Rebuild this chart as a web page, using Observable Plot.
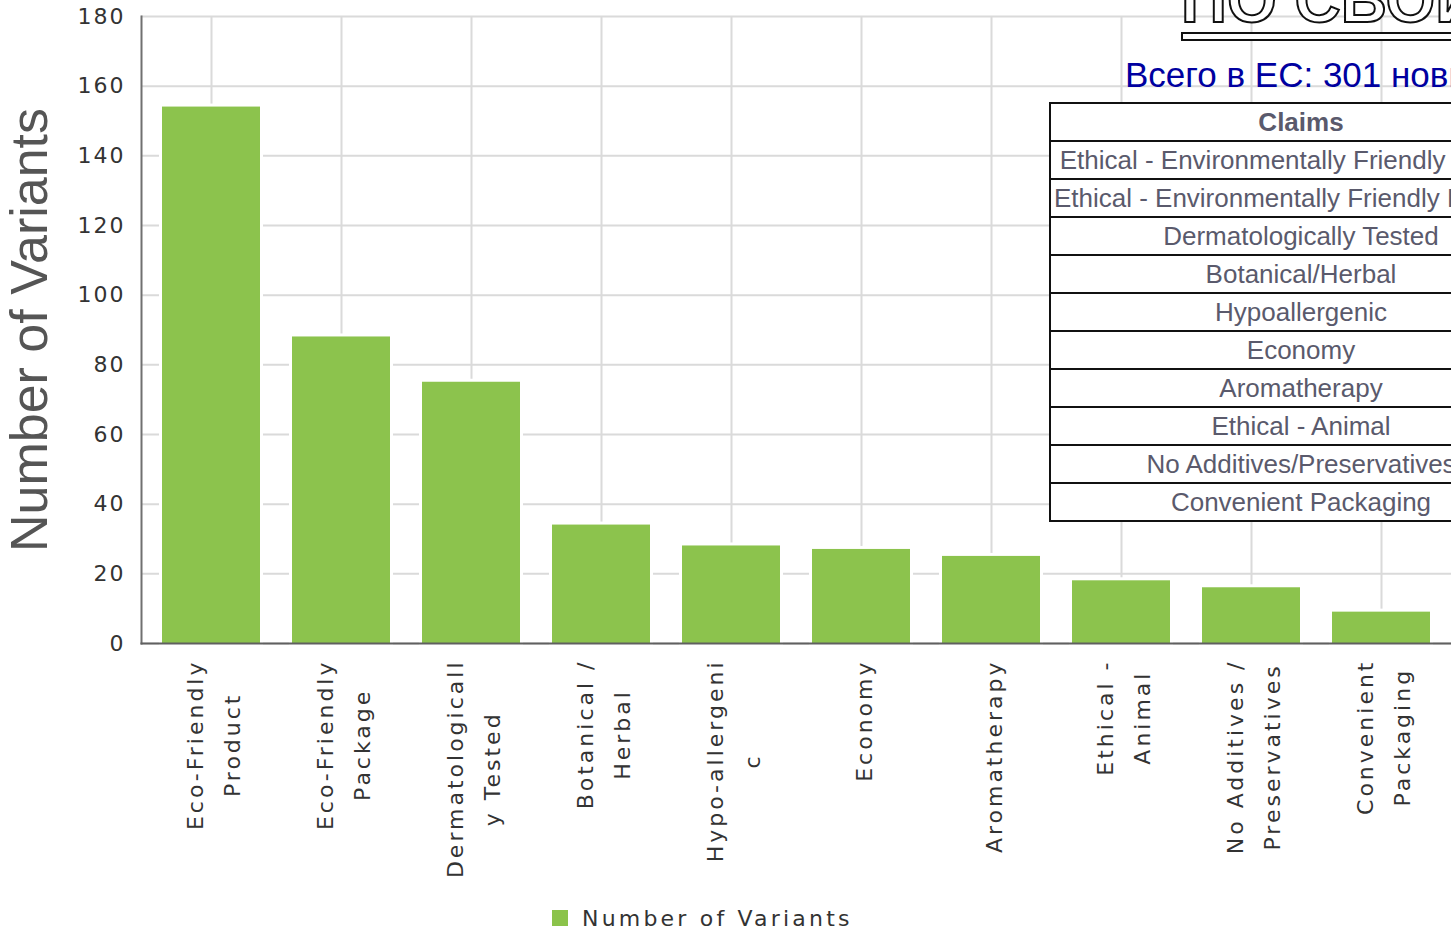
<!DOCTYPE html>
<html>
<head>
<meta charset="utf-8">
<script src="https://cdn.jsdelivr.net/npm/d3@7"></script>
<script src="https://cdn.jsdelivr.net/npm/@observablehq/plot@0.6"></script>
<style>
  body { margin: 0; background: #fff; }
  #wrap { position: relative; width: 1451px; height: 937px; overflow: hidden; background: #fff; }
  #chart { position: absolute; left: 0; top: 0; }
  g[aria-label="y-axis tick label"] text { letter-spacing: 2px; }
  #title { position: absolute; left: 1181px; top: -32px; font: bold 64px/64px "Liberation Sans", Arial, sans-serif;
           color: #fff; -webkit-text-stroke: 2px #111; white-space: nowrap; }
  #underline { position: absolute; left: 1181px; top: 32px; width: 320px; height: 5px; background: #fff; border: 2px solid #111; }
  #subtitle { position: absolute; left: 1125px; top: 57px; font: 35px/35px "Liberation Sans", Arial, sans-serif;
              color: #0000a0; white-space: nowrap; }
  #claims { position: absolute; left: 1049px; top: 102px; width: 500px; border: 2px solid #111; border-bottom: none; background: #fff; }
  #claims .row { height: 36px; border-bottom: 2px solid #111; font: 26px/36px "Liberation Sans", Arial, sans-serif;
                 color: #5a5a6c; text-align: center; white-space: nowrap; }
  #claims .head { font-weight: bold; }
  #legend { position: absolute; left: 552px; top: 902px; height: 32px; display: flex; align-items: center;
            font: 22px "DejaVu Sans", sans-serif; letter-spacing: 3.2px; color: #333; }
  #legend .sw { width: 16px; height: 16px; background: #8bc34a; margin-right: 14px; }
</style>
</head>
<body>
<div id="wrap">
  <div id="chart"></div>
  <div id="title">ПО СВОЙСТВАМ</div>
  <div id="underline"></div>
  <div id="subtitle">Всего в ЕС: 301 новинка</div>
  <div id="claims"></div>
  <div id="legend"><div class="sw"></div><span>Number of Variants</span></div>
</div>
<script>
const categories = ["Eco-Friendly Product", "Eco-Friendly Package", "Dermatologically Tested", "Botanical / Herbal",
  "Hypo-allergenic", "Economy", "Aromatherapy", "Ethical - Animal", "No Additives / Preservatives", "Convenient Packaging"];
const tickLabels = ["Eco-Friendly\nProduct", "Eco-Friendly\nPackage", "Dermatologicall\ny Tested", "Botanical /\nHerbal",
  "Hypo-allergeni\nc", "Economy", "Aromatherapy", "Ethical -\nAnimal", "No Additives /\nPreservatives", "Convenient\nPackaging"];
const values = [154, 88, 75, 34, 28, 27, 25, 18, 16, 9];
const yTicks = [0, 20, 40, 60, 80, 100, 120, 140, 160, 180];
const yTitle = "Number of Variants";
const claimsHeader = "Claims";
const claims = ["Ethical - Environmentally Friendly Product", "Ethical - Environmentally Friendly Package",
  "Dermatologically Tested", "Botanical/Herbal", "Hypoallergenic", "Economy", "Aromatherapy",
  "Ethical - Animal", "No Additives/Preservatives", "Convenient Packaging"];

const data = categories.map((c, i) => ({category: c, value: values[i], label: tickLabels[i]}));

const chart = Plot.plot({
  width: 1451,
  height: 890,
  marginTop: 16,
  marginLeft: 141,
  marginRight: 0,
  marginBottom: 247,
  style: {fontFamily: "DejaVu Sans", background: "transparent", overflow: "visible"},
  x: {domain: categories, paddingInner: 0.247, paddingOuter: 0.155, axis: null},
  y: {domain: [0, 180], axis: null},
  marks: [
    Plot.ruleY(yTicks, {stroke: "#dadada", strokeWidth: 2}),
    Plot.ruleX(categories, {x: d => d, y1: 0, y2: 180, stroke: "#dadada", strokeWidth: 2}),
    Plot.barY(data, {x: "category", y: "value", fill: "white", stroke: "white", strokeWidth: 6}),
    Plot.barY(data, {x: "category", y: "value", fill: "#7fbc3a", fillOpacity: 0.9}),
    Plot.frame({anchor: "left", stroke: "#707070", strokeWidth: 2}),
    Plot.frame({anchor: "bottom", stroke: "#606060", strokeWidth: 2}),
    Plot.axisY({ticks: yTicks, tickSize: 0, tickPadding: 16, fontSize: 22, fill: "#333", label: null}),
    Plot.text(data, {x: "category", text: "label", frameAnchor: "bottom", dy: 16, rotate: -90,
      textAnchor: "middle", lineHeight: 1.7, fontSize: 22, fill: "#333"}),
    Plot.text([yTitle], {text: d => d, frameAnchor: "left", dx: -111, rotate: -90, textAnchor: "middle",
      fontSize: 52, fontFamily: "Liberation Sans", fill: "#555"})
  ]
});
document.getElementById("chart").appendChild(chart);

// The first plain text mark holds the category labels
const xs = chart.scale("x");
const svgLeft = chart.getBoundingClientRect().left;
const textGroups = chart.querySelectorAll('g[aria-label="text"]');
const xLabelGroup = textGroups[0];
xLabelGroup.querySelectorAll("text").forEach((t, i) => {
  t.style.letterSpacing = "3px";
  const w = t.getBBox().width;
  // top of the longest line at the anchor, lines centered on each other
  const spans = t.querySelectorAll("tspan");
  if (spans.length) spans.forEach(s => s.setAttribute("x", -w / 2));
  else t.setAttribute("x", -w / 2);
  // center the block of lines on its band
  const r = t.getBoundingClientRect();
  const cx = (r.left + r.right) / 2 - svgLeft;
  const target = xs.apply(categories[i]) + xs.bandwidth / 2 + 3;
  t.setAttribute("transform", `translate(${target - cx},0) ` + t.getAttribute("transform"));
});

const tbl = document.getElementById("claims");
[claimsHeader, ...claims].forEach((c, i) => {
  const r = document.createElement("div");
  r.className = "row" + (i === 0 ? " head" : "");
  r.textContent = c;
  tbl.appendChild(r);
});
</script>
</body>
</html>
